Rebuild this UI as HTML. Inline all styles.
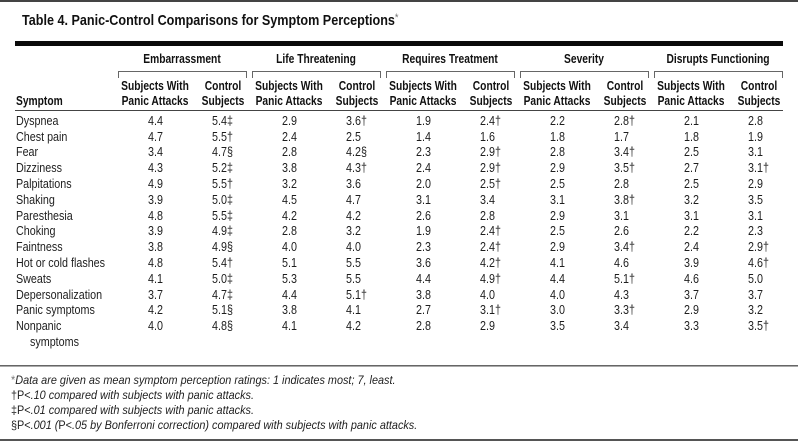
<!DOCTYPE html>
<html><head><meta charset="utf-8"><style>
html,body{margin:0;padding:0;background:#fff}
body{width:798px;height:443px;position:relative;overflow:hidden;font-family:"Liberation Sans",Arial,sans-serif;color:#1e1e1e}
.ln{position:absolute}
.tt{position:absolute;left:22px;top:13.3px;font:bold 15px/16px "Liberation Sans",sans-serif;white-space:nowrap;transform:scaleX(.84);transform-origin:0 0;color:#111}
.tt sup{font-weight:normal;color:#777;font-size:11px;vertical-align:top;position:relative;top:-3px}
.h{position:absolute;width:200px;text-align:center;font:bold 12.5px/16px "Liberation Sans",sans-serif;white-space:nowrap;transform:scaleX(.82);transform-origin:50% 0;color:#111}
.hl{position:absolute;font:bold 12.5px/16px "Liberation Sans",sans-serif;white-space:nowrap;transform:scaleX(.82);transform-origin:0 0;color:#111}
.br{position:absolute;top:71px;height:6px;width:127px;border:1px solid #666;border-bottom:none}
.r{position:absolute;left:0;width:798px;height:16px;font:12.5px/16px "Liberation Sans",sans-serif;color:#1e1e1e}
.r span{position:absolute;top:0;white-space:nowrap;transform:scaleX(.86);transform-origin:0 0}
.c0{left:16px}.c1{left:148px}.c2{left:212px}.c3{left:282px}.c4{left:346px}.c5{left:416px}.c6{left:480px}.c7{left:550px}.c8{left:614px}.c9{left:684px}.c10{left:748px}
.fn{position:absolute;left:11px;font:italic 12px/16px "Liberation Sans",sans-serif;white-space:nowrap;transform:scaleX(.905);transform-origin:0 0;color:#1e1e1e}
.fn b{font-weight:normal;font-style:normal}
</style></head><body>
<div class="ln" style="left:0;top:0;width:798px;height:2px;background:#444"></div>
<div class="tt">Table 4. Panic-Control Comparisons for Symptom Perceptions<sup>*</sup></div>
<div class="ln" style="left:15px;top:41px;width:768px;height:5px;background:#0a0a0a"></div>

<div class="h" style="left:82px;top:51.2px">Embarrassment</div>
<div class="h" style="left:216px;top:51.2px">Life Threatening</div>
<div class="h" style="left:350px;top:51.2px">Requires Treatment</div>
<div class="h" style="left:484px;top:51.2px">Severity</div>
<div class="h" style="left:618px;top:51.2px">Disrupts Functioning</div>

<div class="br" style="left:118px"></div>
<div class="br" style="left:252px"></div>
<div class="br" style="left:386px"></div>
<div class="br" style="left:520px"></div>
<div class="br" style="left:654px"></div>

<div class="h" style="left:55px;top:77.7px">Subjects With</div>
<div class="h" style="left:55px;top:92.5px">Panic Attacks</div>
<div class="h" style="left:123px;top:77.7px">Control</div>
<div class="h" style="left:123px;top:92.5px">Subjects</div>
<div class="h" style="left:189px;top:77.7px">Subjects With</div>
<div class="h" style="left:189px;top:92.5px">Panic Attacks</div>
<div class="h" style="left:257px;top:77.7px">Control</div>
<div class="h" style="left:257px;top:92.5px">Subjects</div>
<div class="h" style="left:323px;top:77.7px">Subjects With</div>
<div class="h" style="left:323px;top:92.5px">Panic Attacks</div>
<div class="h" style="left:391px;top:77.7px">Control</div>
<div class="h" style="left:391px;top:92.5px">Subjects</div>
<div class="h" style="left:457px;top:77.7px">Subjects With</div>
<div class="h" style="left:457px;top:92.5px">Panic Attacks</div>
<div class="h" style="left:525px;top:77.7px">Control</div>
<div class="h" style="left:525px;top:92.5px">Subjects</div>
<div class="h" style="left:591px;top:77.7px">Subjects With</div>
<div class="h" style="left:591px;top:92.5px">Panic Attacks</div>
<div class="h" style="left:659px;top:77.7px">Control</div>
<div class="h" style="left:659px;top:92.5px">Subjects</div>
<div class="hl" style="left:16px;top:92.5px">Symptom</div>

<div class="ln" style="left:15px;top:110px;width:768px;height:1px;background:#444"></div>

<div class="r" style="top:112.7px"><span class="c0">Dyspnea</span><span class="c1">4.4</span><span class="c2">5.4‡</span><span class="c3">2.9</span><span class="c4">3.6†</span><span class="c5">1.9</span><span class="c6">2.4†</span><span class="c7">2.2</span><span class="c8">2.8†</span><span class="c9">2.1</span><span class="c10">2.8</span></div>
<div class="r" style="top:128.5px"><span class="c0">Chest pain</span><span class="c1">4.7</span><span class="c2">5.5†</span><span class="c3">2.4</span><span class="c4">2.5</span><span class="c5">1.4</span><span class="c6">1.6</span><span class="c7">1.8</span><span class="c8">1.7</span><span class="c9">1.8</span><span class="c10">1.9</span></div>
<div class="r" style="top:144.3px"><span class="c0">Fear</span><span class="c1">3.4</span><span class="c2">4.7§</span><span class="c3">2.8</span><span class="c4">4.2§</span><span class="c5">2.3</span><span class="c6">2.9†</span><span class="c7">2.8</span><span class="c8">3.4†</span><span class="c9">2.5</span><span class="c10">3.1</span></div>
<div class="r" style="top:160.1px"><span class="c0">Dizziness</span><span class="c1">4.3</span><span class="c2">5.2‡</span><span class="c3">3.8</span><span class="c4">4.3†</span><span class="c5">2.4</span><span class="c6">2.9†</span><span class="c7">2.9</span><span class="c8">3.5†</span><span class="c9">2.7</span><span class="c10">3.1†</span></div>
<div class="r" style="top:175.9px"><span class="c0">Palpitations</span><span class="c1">4.9</span><span class="c2">5.5†</span><span class="c3">3.2</span><span class="c4">3.6</span><span class="c5">2.0</span><span class="c6">2.5†</span><span class="c7">2.5</span><span class="c8">2.8</span><span class="c9">2.5</span><span class="c10">2.9</span></div>
<div class="r" style="top:191.7px"><span class="c0">Shaking</span><span class="c1">3.9</span><span class="c2">5.0‡</span><span class="c3">4.5</span><span class="c4">4.7</span><span class="c5">3.1</span><span class="c6">3.4</span><span class="c7">3.1</span><span class="c8">3.8†</span><span class="c9">3.2</span><span class="c10">3.5</span></div>
<div class="r" style="top:207.5px"><span class="c0">Paresthesia</span><span class="c1">4.8</span><span class="c2">5.5‡</span><span class="c3">4.2</span><span class="c4">4.2</span><span class="c5">2.6</span><span class="c6">2.8</span><span class="c7">2.9</span><span class="c8">3.1</span><span class="c9">3.1</span><span class="c10">3.1</span></div>
<div class="r" style="top:223.3px"><span class="c0">Choking</span><span class="c1">3.9</span><span class="c2">4.9‡</span><span class="c3">2.8</span><span class="c4">3.2</span><span class="c5">1.9</span><span class="c6">2.4†</span><span class="c7">2.5</span><span class="c8">2.6</span><span class="c9">2.2</span><span class="c10">2.3</span></div>
<div class="r" style="top:239.1px"><span class="c0">Faintness</span><span class="c1">3.8</span><span class="c2">4.9§</span><span class="c3">4.0</span><span class="c4">4.0</span><span class="c5">2.3</span><span class="c6">2.4†</span><span class="c7">2.9</span><span class="c8">3.4†</span><span class="c9">2.4</span><span class="c10">2.9†</span></div>
<div class="r" style="top:254.9px"><span class="c0">Hot or cold flashes</span><span class="c1">4.8</span><span class="c2">5.4†</span><span class="c3">5.1</span><span class="c4">5.5</span><span class="c5">3.6</span><span class="c6">4.2†</span><span class="c7">4.1</span><span class="c8">4.6</span><span class="c9">3.9</span><span class="c10">4.6†</span></div>
<div class="r" style="top:270.7px"><span class="c0">Sweats</span><span class="c1">4.1</span><span class="c2">5.0‡</span><span class="c3">5.3</span><span class="c4">5.5</span><span class="c5">4.4</span><span class="c6">4.9†</span><span class="c7">4.4</span><span class="c8">5.1†</span><span class="c9">4.6</span><span class="c10">5.0</span></div>
<div class="r" style="top:286.5px"><span class="c0">Depersonalization</span><span class="c1">3.7</span><span class="c2">4.7‡</span><span class="c3">4.4</span><span class="c4">5.1†</span><span class="c5">3.8</span><span class="c6">4.0</span><span class="c7">4.0</span><span class="c8">4.3</span><span class="c9">3.7</span><span class="c10">3.7</span></div>
<div class="r" style="top:302.3px"><span class="c0">Panic symptoms</span><span class="c1">4.2</span><span class="c2">5.1§</span><span class="c3">3.8</span><span class="c4">4.1</span><span class="c5">2.7</span><span class="c6">3.1†</span><span class="c7">3.0</span><span class="c8">3.3†</span><span class="c9">2.9</span><span class="c10">3.2</span></div>
<div class="r" style="top:318.1px"><span class="c0">Nonpanic</span><span class="c1">4.0</span><span class="c2">4.8§</span><span class="c3">4.1</span><span class="c4">4.2</span><span class="c5">2.8</span><span class="c6">2.9</span><span class="c7">3.5</span><span class="c8">3.4</span><span class="c9">3.3</span><span class="c10">3.5†</span></div>
<div class="r" style="top:333.9px"><span style="left:30px">symptoms</span></div>

<div class="ln" style="left:0;top:365px;width:798px;height:1px;background:#666"></div>
<div class="ln" style="left:0;top:366px;width:798px;height:1px;background:#aaa"></div>

<div class="fn" style="top:371.8px"><b style="color:#777">*</b>Data are given as mean symptom perception ratings: 1 indicates most; 7, least.</div>
<div class="fn" style="top:386.8px"><b>†P&lt;</b>.10 compared with subjects with panic attacks.</div>
<div class="fn" style="top:401.8px"><b>‡P&lt;</b>.01 compared with subjects with panic attacks.</div>
<div class="fn" style="top:416.8px"><b>§P&lt;</b>.001 (<b>P&lt;</b>.05 by Bonferroni correction) compared with subjects with panic attacks.</div>

<div class="ln" style="left:0;top:439px;width:798px;height:2px;background:#555"></div>
</body></html>
